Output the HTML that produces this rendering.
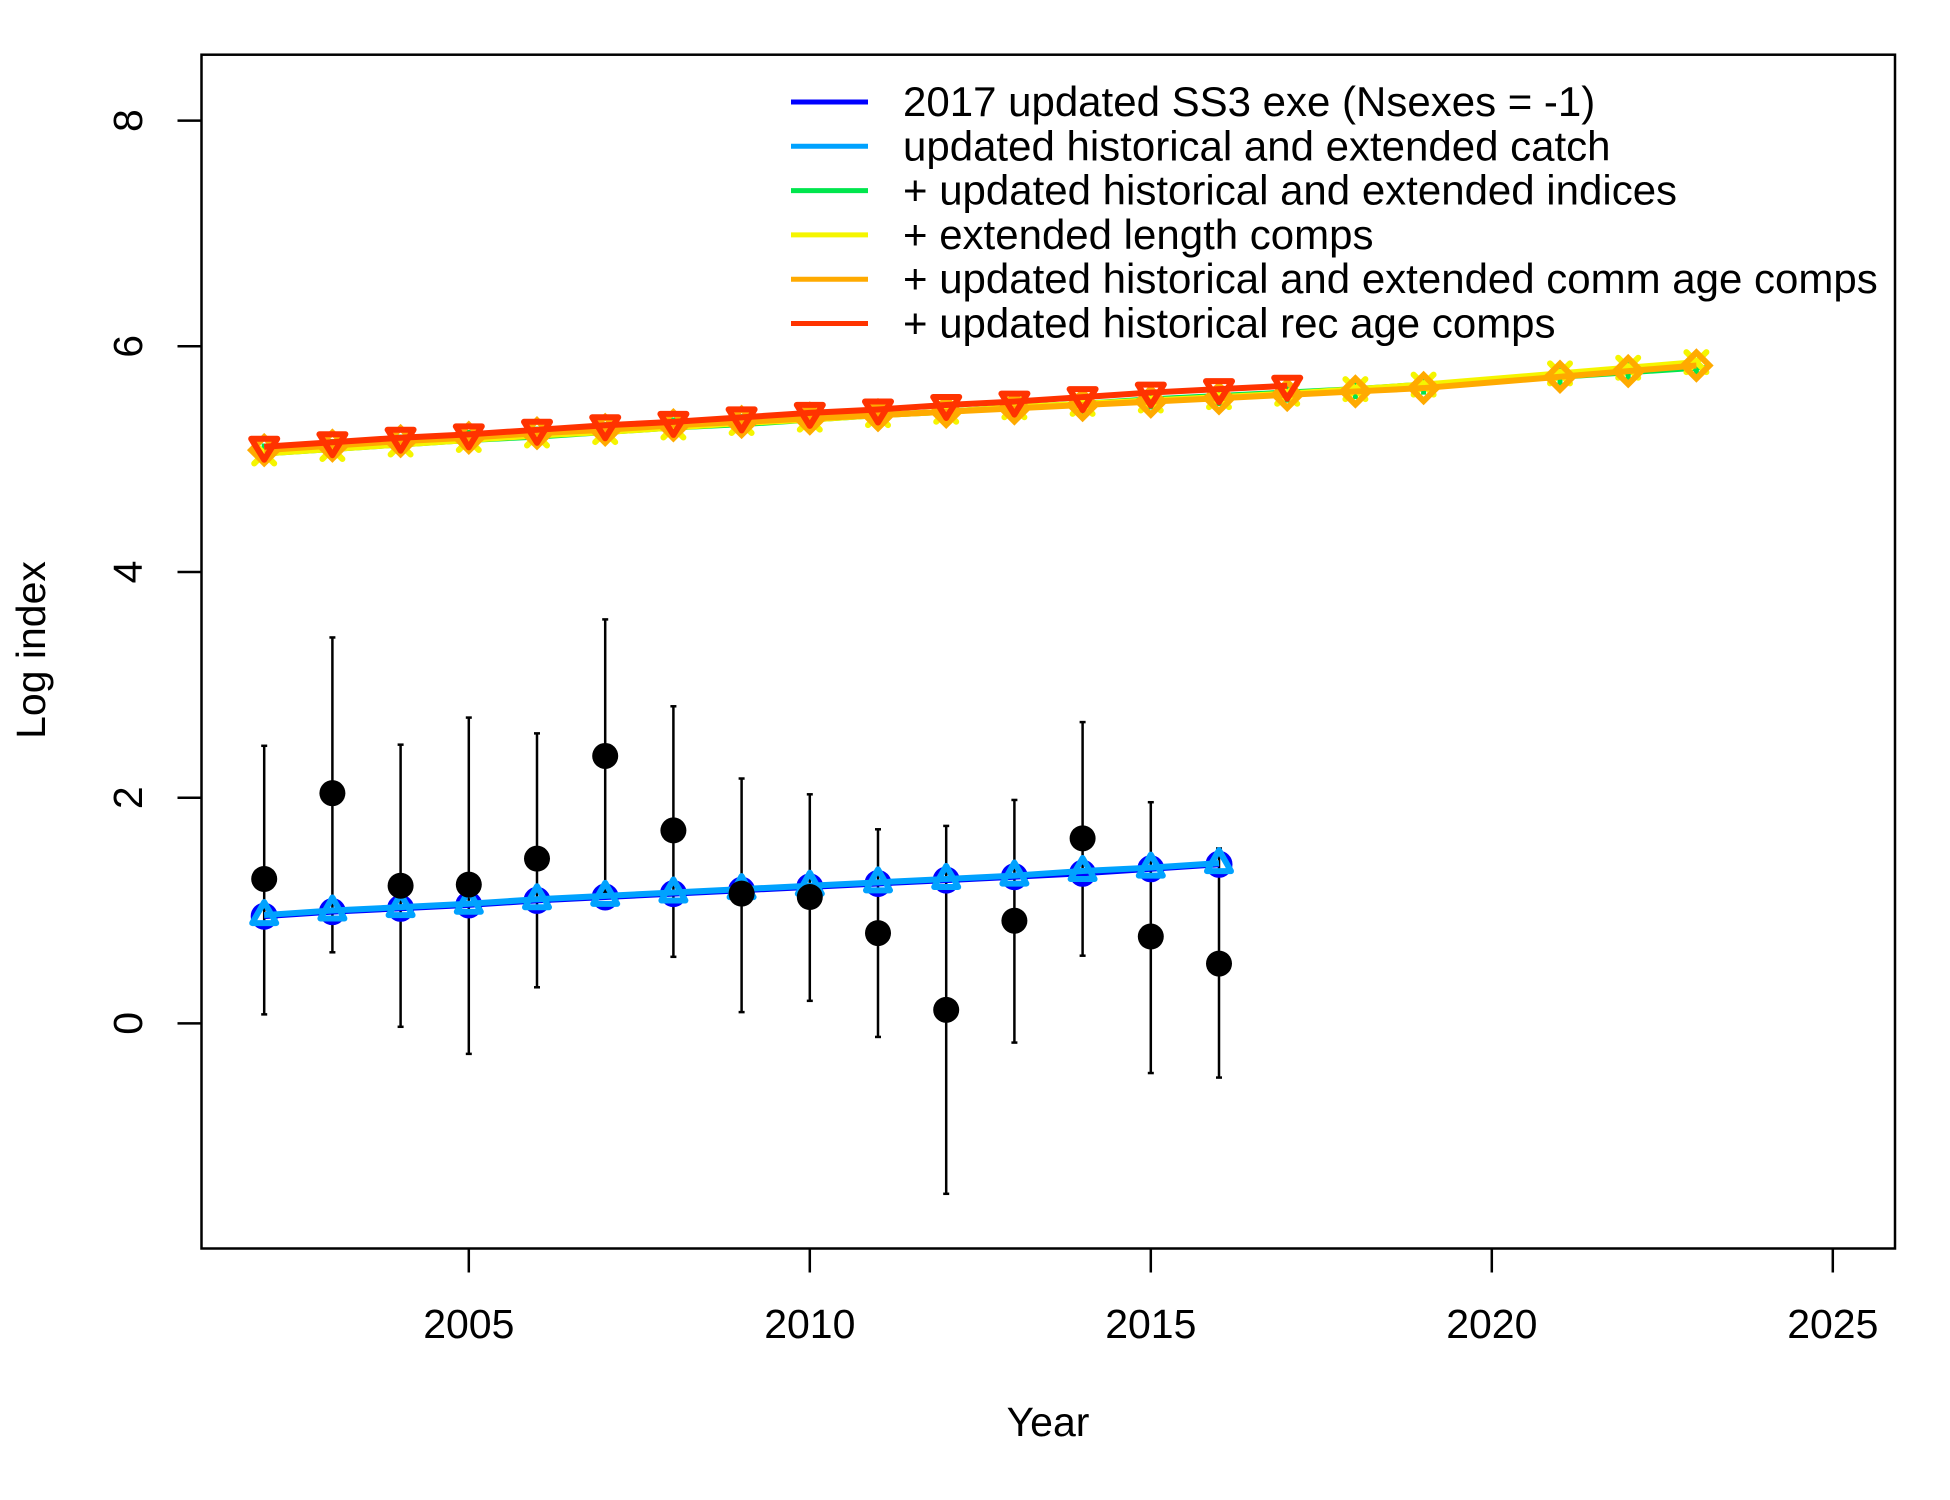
<!DOCTYPE html>
<html><head><meta charset="utf-8"><style>
html,body{margin:0;padding:0;background:#fff;}
svg{display:block;font-family:"Liberation Sans",sans-serif;}
</style></head><body>
<svg id="chart" width="1950" height="1500" viewBox="0 0 1950 1500" xmlns="http://www.w3.org/2000/svg"></svg>
<script>
const years = [2002,2003,2004,2005,2006,2007,2008,2009,2010,2011,2012,2013,2014,2015,2016,2017,2018,2019,2021,2022,2023];
const obsYears = [2002,2003,2004,2005,2006,2007,2008,2009,2010,2011,2012,2013,2014,2015,2016];
const obsValues = [1.28,2.04,1.22,1.23,1.46,2.37,1.71,1.15,1.12,0.80,0.12,0.91,1.64,0.77,0.53];
const obsLower = [0.08,0.63,-0.03,-0.27,0.32,1.16,0.59,0.10,0.20,-0.12,-1.51,-0.17,0.60,-0.44,-0.48];
const obsUpper = [2.46,3.42,2.47,2.71,2.57,3.58,2.81,2.17,2.03,1.72,1.75,1.98,2.67,1.96,1.55];
const blueValues = [0.95,0.99,1.02,1.05,1.09,1.12,1.15,1.18,1.21,1.24,1.27,1.30,1.33,1.37,1.41];
const lightBlueValues = [0.96,1.00,1.03,1.06,1.10,1.13,1.16,1.19,1.22,1.25,1.28,1.31,1.35,1.38,1.42];
const greenValues = [5.05,5.09,5.13,5.17,5.20,5.24,5.28,5.31,5.35,5.39,5.42,5.46,5.49,5.53,5.56,5.59,5.62,5.66,5.73,5.77,5.81];
const yellowValues = [5.05,5.09,5.13,5.17,5.21,5.24,5.28,5.32,5.35,5.39,5.42,5.46,5.49,5.52,5.55,5.58,5.62,5.66,5.76,5.81,5.86];
const orangeValues = [5.08,5.12,5.16,5.19,5.23,5.26,5.30,5.33,5.36,5.39,5.42,5.45,5.48,5.51,5.54,5.57,5.60,5.63,5.73,5.78,5.83];
const redValues = [5.11,5.15,5.19,5.22,5.26,5.30,5.33,5.37,5.41,5.44,5.48,5.51,5.55,5.59,5.62,5.65];
const xTicks = [2005,2010,2015,2020,2025];
const yTicks = [0,2,4,6,8];
const legendLabels = ["2017 updated SS3 exe (Nsexes = -1)","updated historical and extended catch","+ updated historical and extended indices","+ extended length comps","+ updated historical and extended comm age comps","+ updated historical rec age comps"];
const legendColors = ["#0000ff","#00a2ff","#00e64d","#f5f500","#ffaa00","#ff3300"];

const NS="http://www.w3.org/2000/svg";
const svg=document.getElementById('chart');
const L=201.5,R=1895,T=54.7,B=1248.5;
const X=v=>468.8+(v-2005)*68.2;
const Y=v=>1023.4-v*112.85;
function mk(tag,attrs,parent){const e=document.createElementNS(NS,tag);for(const k in attrs)e.setAttribute(k,attrs[k]);(parent||svg).appendChild(e);return e;}

let box=mk('rect',{x:L,y:T,width:R-L,height:B-T,fill:'none',stroke:'#000','stroke-width':2.5});



xTicks.forEach(t=>{
  let l=mk('line',{x1:X(t),x2:X(t),y1:B,y2:B+24,stroke:'#000','stroke-width':2.5});
  
  
  let tx=mk('text',{x:X(t),y:1338,'font-size':41,'text-anchor':'middle'});
  tx.textContent=t;
  
  
});
yTicks.forEach(t=>{
  let l=mk('line',{x1:L-24,x2:L,y1:Y(t),y2:Y(t),stroke:'#000','stroke-width':2.5});
  
  
  let tx=mk('text',{x:0,y:0,'font-size':41,'text-anchor':'middle',transform:`translate(142,${Y(t)}) rotate(-90)`});
  tx.textContent=t;
  
  
});
let xt=mk('text',{x:1048,y:1436,'font-size':41,'text-anchor':'middle'});
xt.textContent='Year';


let yt=mk('text',{x:0,y:0,'font-size':41,'text-anchor':'middle',transform:'translate(45,650) rotate(-90)'});
yt.textContent='Log index';



obsYears.forEach((yr,i)=>{
  let g=mk('g',{});
  
  
  mk('line',{x1:X(yr),x2:X(yr),y1:Y(obsLower[i]),y2:Y(obsUpper[i]),stroke:'#000','stroke-width':2.5},g);
  mk('line',{x1:X(yr)-3,x2:X(yr)+3,y1:Y(obsLower[i]),y2:Y(obsLower[i]),stroke:'#000','stroke-width':2.5},g);
  mk('line',{x1:X(yr)-3,x2:X(yr)+3,y1:Y(obsUpper[i]),y2:Y(obsUpper[i]),stroke:'#000','stroke-width':2.5},g);
});

function series(name,xs,vs,color,marker){
  let g=mk('g',{});
  
  
  const pts=xs.map((x,i)=>X(x)+','+Y(vs[i])).join(' ');
  mk('polyline',{points:pts,fill:'none',stroke:color,'stroke-width':6},g);
  xs.forEach((x,i)=>{
    const cx=X(x),cy=Y(vs[i]);let m;
    if(marker==='circle') m=mk('circle',{cx,cy,r:11,fill:'none',stroke:color,'stroke-width':5},g);
    else if(marker==='up') m=mk('polygon',{points:`${cx},${cy-13} ${cx+12},${cy+8} ${cx-12},${cy+8}`,fill:'none',stroke:color,'stroke-width':6,'stroke-linejoin':'round'},g);
    else if(marker==='down') m=mk('polygon',{points:`${cx},${cy+13} ${cx+13},${cy-8} ${cx-13},${cy-8}`,fill:'none',stroke:color,'stroke-width':6,'stroke-linejoin':'round'},g);
    else if(marker==='plus') m=mk('path',{d:`M${cx-10},${cy}H${cx+10}M${cx},${cy-10}V${cy+10}`,stroke:color,'stroke-width':5},g);
    else if(marker==='x') m=mk('path',{d:`M${cx-10},${cy-10}L${cx+10},${cy+10}M${cx+10},${cy-10}L${cx-10},${cy+10}`,stroke:color,'stroke-width':6,'stroke-linecap':'round'},g);
    else if(marker==='diamond') m=mk('polygon',{points:`${cx},${cy-13} ${cx+13},${cy} ${cx},${cy+13} ${cx-13},${cy}`,fill:'none',stroke:color,'stroke-width':6},g);
    
    
  });
}
series('series-2017-ss3',obsYears,blueValues,legendColors[0],'circle');
series('series-catch',obsYears,lightBlueValues,legendColors[1],'up');
series('series-indices',years,greenValues,legendColors[2],'plus');
series('series-length-comps',years,yellowValues,legendColors[3],'x');
series('series-comm-age-comps',years,orangeValues,legendColors[4],'diamond');
series('series-rec-age-comps',years.slice(0,16),redValues,legendColors[5],'down');

obsYears.forEach((yr,i)=>{
  let c=mk('circle',{cx:X(yr),cy:Y(obsValues[i]),r:13,fill:'#000'});
  
  
});

let lg=mk('g',{});


legendLabels.forEach((lab,i)=>{
  const y=102+i*44.3;
  let e=mk('g',{},lg);
  
  
  mk('line',{x1:791,x2:868,y1:y,y2:y,stroke:legendColors[i],'stroke-width':5},e);
  let t=mk('text',{x:903,y:y+14,'font-size':42},e);
  t.textContent=lab;
});
</script>
</body></html>
